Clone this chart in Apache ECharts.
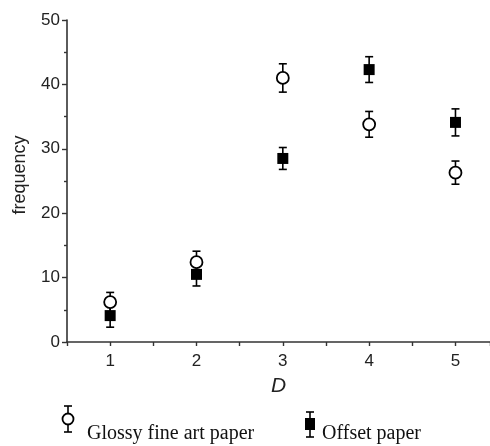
<!DOCTYPE html>
<html>
<head>
<meta charset="utf-8">
<script src="https://cdn.jsdelivr.net/npm/echarts@6/dist/echarts.min.js"></script>
<style>
	html, body { margin: 0; padding: 0; background: #fff; }
	#main { width: 490px; height: 446px; }
</style>
</head>
<body>
<div id="main"></div>
<script>
// D values on x axis
var dValues = [1, 2, 3, 4, 5]
// glossy fine art paper (open circles)
var glossyFreq = [6.2, 12.4, 41.0, 33.8, 26.3]
var glossyErr = [1.5, 1.7, 2.2, 2.0, 1.8]
// offset paper (filled squares)
var offsetFreq = [4.1, 10.5, 28.5, 42.3, 34.1]
var offsetErr = [1.8, 1.8, 1.7, 2.0, 2.1]

var ink = '#000'

function pts(ys) {
	return dValues.map((d, i) => [d, ys[i]])
}
function bars(ys, errs) {
	return dValues.map((d, i) => [d, ys[i] - errs[i], ys[i] + errs[i]])
}

//误差线
function errorBar(params, api) {
	var lo = api.coord([api.value(0), api.value(1)])
	var hi = api.coord([api.value(0), api.value(2)])
	var w = 4
	var st = { stroke: ink, lineWidth: 1.6 }
	return {
		type: 'group',
		children: [
			{ type: 'line', shape: { x1: lo[0], y1: lo[1], x2: hi[0], y2: hi[1] }, style: st },
			{ type: 'line', shape: { x1: lo[0] - w, y1: lo[1], x2: lo[0] + w, y2: lo[1] }, style: st },
			{ type: 'line', shape: { x1: hi[0] - w, y1: hi[1], x2: hi[0] + w, y2: hi[1] }, style: st }
		]
	}
}

var chart = echarts.init(document.getElementById('main'))

var option = {
	animation: false,
	grid: { left: 67, top: 20, right: 0, bottom: 104, containLabel: false, outerBoundsMode: 'none' },
	xAxis: {
		type: 'value',
		min: 0.5,
		max: 5.4,
		interval: 0.5,
		name: 'D',
		nameLocation: 'middle',
		nameGap: 34,
		nameTextStyle: { fontSize: 21, fontStyle: 'italic', fontFamily: 'Liberation Sans', color: '#222' },
		axisLine: { lineStyle: { color: '#333', width: 1.6 } },
		axisTick: {
			length: 4,
			lineStyle: { color: '#333', width: 1.4 }
		},
		axisLabel: {
			fontSize: 17,
			fontFamily: 'Liberation Sans',
			color: '#222',
			margin: 11,
			formatter: function (v) {
				return Number.isInteger(v) ? v : ''
			}
		},
		splitLine: { show: false }
	},
	yAxis: {
		type: 'value',
		min: 0,
		max: 50,
		interval: 10,
		name: 'frequency',
		nameLocation: 'middle',
		nameGap: 38,
		nameTextStyle: { fontSize: 18, fontFamily: 'Liberation Sans', color: '#222', padding: [0, 0, 0, 12] },
		axisLine: { show: true, lineStyle: { color: '#333', width: 1.6 } },
		axisTick: { show: true, length: 5, lineStyle: { color: '#333', width: 1.4 } },
		minorTick: { show: true, splitNumber: 2, length: 3, lineStyle: { color: '#333', width: 1.4 } },
		axisLabel: { fontSize: 17, fontFamily: 'Liberation Sans', color: '#222', margin: 7 },
		splitLine: { show: false }
	},
	series: [
		{
			type: 'custom',
			renderItem: errorBar,
			data: bars(offsetFreq, offsetErr),
			z: 2
		},
		{
			name: 'Offset paper',
			type: 'scatter',
			symbol: 'rect',
			symbolSize: 11,
			itemStyle: { color: ink, opacity: 1 },
			data: pts(offsetFreq),
			z: 3
		},
		{
			type: 'custom',
			renderItem: errorBar,
			data: bars(glossyFreq, glossyErr),
			z: 4
		},
		{
			name: 'Glossy fine art paper',
			type: 'scatter',
			symbol: 'circle',
			symbolSize: 12,
			itemStyle: { color: '#fff', borderColor: ink, borderWidth: 1.8, opacity: 1 },
			data: pts(glossyFreq),
			z: 5
		}
	],
	//底部图例
	graphic: [
		{ type: 'line', shape: { x1: 68, y1: 406, x2: 68, y2: 432 }, style: { stroke: ink, lineWidth: 1.6 } },
		{ type: 'line', shape: { x1: 64, y1: 406, x2: 72, y2: 406 }, style: { stroke: ink, lineWidth: 1.6 } },
		{ type: 'line', shape: { x1: 64, y1: 432, x2: 72, y2: 432 }, style: { stroke: ink, lineWidth: 1.6 } },
		{ type: 'circle', shape: { cx: 68, cy: 419, r: 5.5 }, style: { fill: '#fff', stroke: ink, lineWidth: 1.8 } },
		{ type: 'text', left: 87, top: 424, style: { text: 'Glossy fine art paper', fontSize: 20, fontFamily: 'Liberation Serif', fill: '#111' } },
		{ type: 'line', shape: { x1: 310, y1: 412, x2: 310, y2: 437 }, style: { stroke: ink, lineWidth: 1.6 } },
		{ type: 'line', shape: { x1: 306, y1: 412, x2: 314, y2: 412 }, style: { stroke: ink, lineWidth: 1.6 } },
		{ type: 'line', shape: { x1: 306, y1: 437, x2: 314, y2: 437 }, style: { stroke: ink, lineWidth: 1.6 } },
		{ type: 'rect', shape: { x: 305, y: 418, width: 10, height: 12 }, style: { fill: ink } },
		{ type: 'text', left: 322, top: 424, style: { text: 'Offset paper', fontSize: 20, fontFamily: 'Liberation Serif', fill: '#111' } }
	]
}

chart.setOption(option)
</script>
</body>
</html>
